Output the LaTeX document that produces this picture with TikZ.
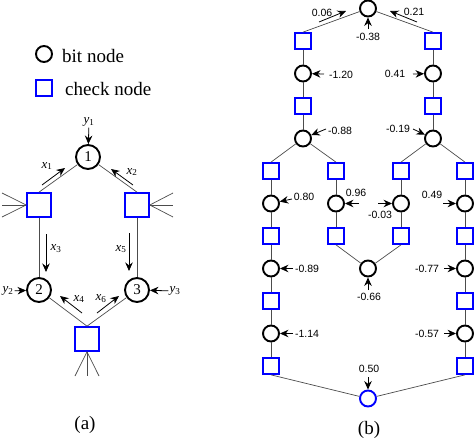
\documentclass[tikz,border=0pt]{standalone}
\usepackage{fontspec}
\setmainfont{Liberation Serif}
\newfontfamily\numfont{Liberation Sans}
\usetikzlibrary{arrows.meta}
\newcommand{\xmsg}[1]{\textit{x}\textsubscript{#1}}
\newcommand{\yin}[1]{\textit{y}\textsubscript{#1}}
\begin{document}
\begin{tikzpicture}[x=1pt,y=-1pt,>={Stealth[length=8.5pt,width=7.5pt]},
  bit/.style={circle,draw,line width=1.9pt,minimum size=16pt,inner sep=0pt},
  bitb/.style={bit,draw=blue},
  chk/.style={draw=blue,line width=1.7pt,minimum size=16pt,inner sep=0pt},
  bigbit/.style={bit,minimum size=24pt,font=\rmfamily\fontsize{15}{15}\selectfont},
  bigchk/.style={chk,minimum size=24pt},
  edge/.style={black!70,line width=0.7pt},
  msg/.style={black,line width=0.8pt,->},
  legtext/.style={font=\rmfamily\fontsize{19}{22}\selectfont,inner sep=2pt},
  sym/.style={font=\rmfamily\fontsize{13}{13}\selectfont,inner sep=1pt},
  val/.style={font=\numfont\fontsize{10.5}{11}\selectfont,inner sep=1pt}]
\useasboundingbox (0,0) rectangle (474,439);
% legend
\node[bit] (legb) at (44,54) {};  \node[legtext,anchor=west] (legbt) at (60,56) {bit node};
\node[chk] (legc) at (44,88) {};  \node[legtext,anchor=west] (legct) at (63,89) {check node};
% (a): one cycle of length six
\node[bigbit] (b1) at (88,157) {1};  \node[bigbit] (b2) at (39,290) {2};  \node[bigbit] (b3) at (137,290) {3};
\node[bigchk] (cL) at (39,205) {};   \node[bigchk] (cR) at (137,205) {};  \node[bigchk] (cB) at (87,339) {};
\coordinate (fL1) at (2,193);   \coordinate (fL2) at (2,205);   \coordinate (fL3) at (2,217);
\coordinate (fR1) at (173,193); \coordinate (fR2) at (173,205); \coordinate (fR3) at (173,217);
\coordinate (fB1) at (75,376);  \coordinate (fB2) at (87,376);  \coordinate (fB3) at (99,376);
\foreach \A/\B in {b1/cL.north,b1/cR.north,cL/b2,cR/b3,cB.north/b2,cB.north/b3}{\draw[edge] (\A) -- (\B);}
\foreach \A/\B in {cL.west/fL1,cL.west/fL2,cL.west/fL3,cR.east/fR1,cR.east/fR2,cR.east/fR3,cB.south/fB1,cB.south/fB2,cB.south/fB3}{\draw[edge] (\A) -- (\B);}
% messages along the edges
\coordinate (m1s) at (42,185);  \coordinate (m1e) at (65,168);
\coordinate (m2s) at (133,185); \coordinate (m2e) at (111,169);
\coordinate (m3s) at (46,234);  \coordinate (m3e) at (46,272);
\coordinate (m5s) at (129,233); \coordinate (m5e) at (129,271);
\coordinate (m4s) at (82,313);  \coordinate (m4e) at (60,296);
\coordinate (m6s) at (97,313);  \coordinate (m6e) at (119,296);
\foreach \A/\B in {m1s/m1e,m2s/m2e,m3s/m3e,m5s/m5e,m4s/m4e,m6s/m6e}{\draw[msg] (\A) -- (\B);}
\node[sym] (x1) at (47,166) {\xmsg{1}};  \node[sym] (x2) at (132,172) {\xmsg{2}};
\node[sym] (x3) at (56,249) {\xmsg{3}};  \node[sym] (x5) at (121,249) {\xmsg{5}};
\node[sym] (x4) at (79,299) {\xmsg{4}};  \node[sym] (x6) at (101,299) {\xmsg{6}};
% channel inputs
\node[sym] (y1) at (89,122) {\yin{1}};  \node[sym] (y2) at (8,291) {\yin{2}};  \node[sym] (y3) at (175,291) {\yin{3}};
\foreach \A/\B in {y1/b1,y2/b2,y3/b3}{\draw[msg] (\A) -- (\B);}
\node[legtext] (capa) at (85,425) {(a)};
% (b): tree unfolded from the top bit node
\node[bit] (b0) at (368,8.5) {};
\node[chk] (cP1) at (303,41) {};    \node[bit] (bP2) at (303,73.5) {};  \node[chk] (cP3) at (303,106) {};  \node[bit] (bP4) at (303,138.5) {};
\node[chk] (cQ1) at (433,41) {};    \node[bit] (bQ2) at (433,73.5) {};  \node[chk] (cQ3) at (433,106) {};  \node[bit] (bQ4) at (433,138.5) {};
\node[chk] (cL5) at (271,171) {};   \node[bit] (bL6) at (271,203.5) {}; \node[chk] (cL7) at (271,236) {};  \node[bit] (bL8) at (271,268.5) {};
\node[chk] (cL9) at (271,301) {};   \node[bit] (bL10) at (271,333.5) {}; \node[chk] (cL11) at (271,366) {};
\node[chk] (cl5) at (336,171) {};   \node[bit] (bl6) at (336,203.5) {}; \node[chk] (cl7) at (336,236) {};
\node[chk] (cr5) at (401,171) {};   \node[bit] (br6) at (401,203.5) {}; \node[chk] (cr7) at (401,236) {};
\node[chk] (cR5) at (465,171) {};   \node[bit] (bR6) at (465,203.5) {}; \node[chk] (cR7) at (465,236) {};  \node[bit] (bR8) at (465,268.5) {};
\node[chk] (cR9) at (465,301) {};   \node[bit] (bR10) at (465,333.5) {}; \node[chk] (cR11) at (465,366) {};
\node[bit] (bm8) at (368,268.5) {}; \node[bitb] (b12) at (368,398.5) {};
\foreach \A/\B in {b0/cP1.north,b0/cQ1.north,cP1/bP2,bP2/cP3,cP3/bP4,cQ1/bQ2,bQ2/cQ3,cQ3/bQ4,bP4/cL5.north,bP4/cl5.north,bQ4/cr5.north,bQ4/cR5.north}{\draw[edge] (\A) -- (\B);}
\foreach \A/\B in {cL5/bL6,bL6/cL7,cL7/bL8,bL8/cL9,cL9/bL10,bL10/cL11,cR5/bR6,bR6/cR7,cR7/bR8,bR8/cR9,cR9/bR10,bR10/cR11}{\draw[edge] (\A) -- (\B);}
\foreach \A/\B in {cl5/bl6,bl6/cl7,cr5/br6,br6/cr7,cl7.south/bm8,cr7.south/bm8,cL11.south/b12,cR11.south/b12}{\draw[edge] (\A) -- (\B);}
% values
\coordinate (t06s) at (319,22);  \coordinate (t06e) at (346,11);
\coordinate (t21s) at (417,22);  \coordinate (t21e) at (390,11);
\foreach \A/\B in {t06s/t06e,t21s/t21e}{\draw[msg] (\A) -- (\B);}
\node[val] (v06) at (322,13) {0.06};  \node[val] (v21) at (414,12) {0.21};
\coordinate (i38) at (368,29);   \coordinate (i120) at (324,74);  \coordinate (i41) at (413,74);
\coordinate (i88) at (326,129);  \coordinate (i19) at (413,129);
\coordinate (i80) at (292,199);  \coordinate (i96) at (359,203.5); \coordinate (i03) at (378,203.5); \coordinate (i49) at (443,203.5);
\coordinate (i89) at (293,268.5); \coordinate (i66) at (368,290); \coordinate (i77) at (444,268.5);
\coordinate (i114) at (293,333.5); \coordinate (i57) at (444,333.5); \coordinate (i50) at (368,377);
\foreach \A/\B in {i38/b0,i120/bP2,i41/bQ2,i88/bP4,i19/bQ4,i80/bL6,i96/bl6,i03/br6,i49/bR6,i89/bL8,i66/bm8,i77/bR8,i114/bL10,i57/bR10,i50/b12}{\draw[msg] (\A) -- (\B);}
\node[val] (v38) at (368,37) {-0.38};  \node[val] (v120) at (341,75) {-1.20};  \node[val] (v41) at (395,74) {0.41};
\node[val] (v88) at (340,131) {-0.88}; \node[val] (v19) at (398,129) {-0.19};
\node[val] (v80) at (304,197) {0.80};  \node[val] (v96) at (356,193) {0.96};   \node[val] (v03) at (380,215) {-0.03}; \node[val] (v49) at (432,195) {0.49};
\node[val] (v89) at (307,269) {-0.89}; \node[val] (v66) at (369,297) {-0.66};  \node[val] (v77) at (427,268.5) {-0.77};
\node[val] (v114) at (307,333.5) {-1.14}; \node[val] (v57) at (427,333.5) {-0.57}; \node[val] (v50) at (369,369) {0.50};
\node[legtext] (capb) at (369,430) {(b)};
\end{tikzpicture}
\end{document}
